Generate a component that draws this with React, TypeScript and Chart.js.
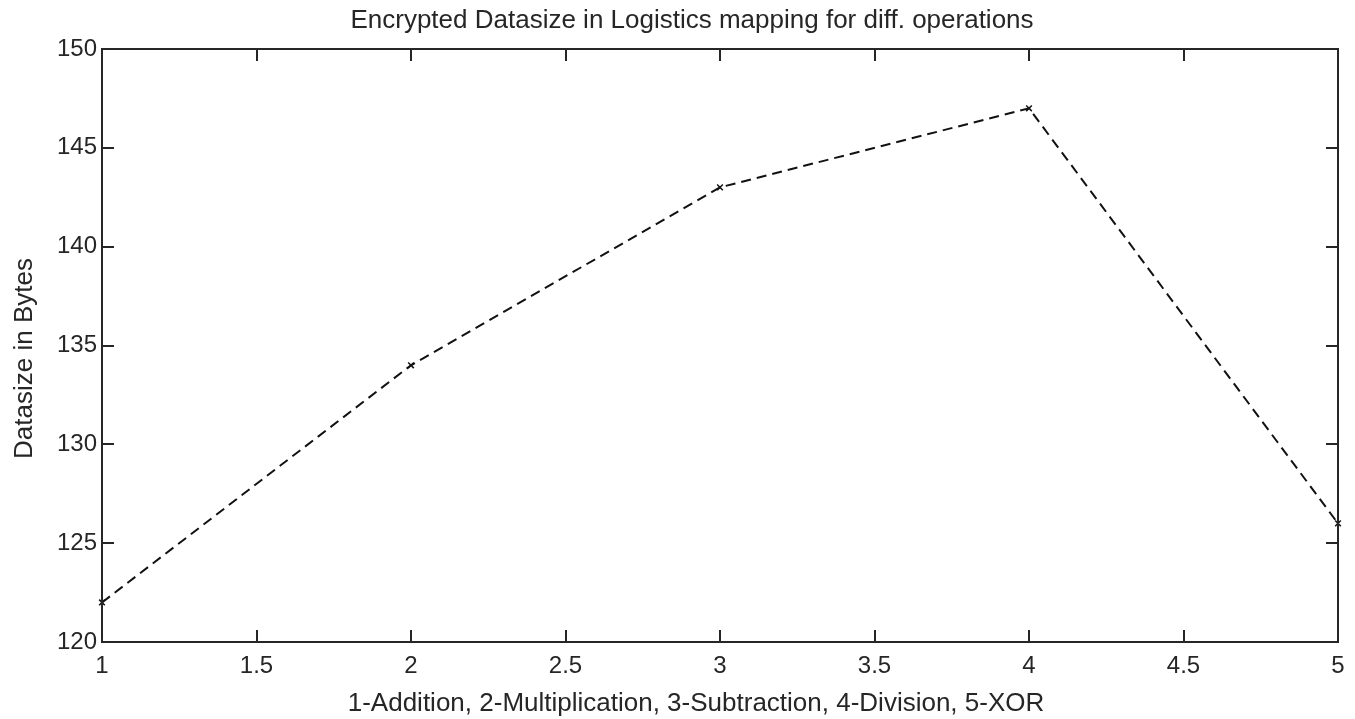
import React, { useEffect, useRef } from "react";
import { Chart, registerables } from "chart.js";

Chart.register(...registerables);

const titleText = "Encrypted Datasize in Logistics mapping for diff. operations";
const xAxisLabel = "1-Addition, 2-Multiplication, 3-Subtraction, 4-Division, 5-XOR";
const yAxisLabel = "Datasize in Bytes";

const operations = [1, 2, 3, 4, 5];
const dataSizes = [122, 134, 143, 147, 126];
const xTickValues = [1, 1.5, 2, 2.5, 3, 3.5, 4, 4.5, 5];
const yTickValues = [120, 125, 130, 135, 140, 145, 150];

const AXIS_COLOR = "#262626";
const FONT = "'Liberation Sans', Arial, Helvetica, sans-serif";

const frameTicksPlugin = {
  id: "frameTicks",
  afterDatasetsDraw(chart: any) {
    const { ctx, chartArea, scales } = chart;
    const { left, right, top, bottom } = chartArea;
    const len = 12;
    ctx.save();
    ctx.strokeStyle = AXIS_COLOR;
    ctx.lineWidth = 2;
    ctx.beginPath();
    xTickValues.forEach((v) => {
      const px = Math.round(scales.x.getPixelForValue(v));
      ctx.moveTo(px, bottom);
      ctx.lineTo(px, bottom - len);
      ctx.moveTo(px, top);
      ctx.lineTo(px, top + len);
    });
    yTickValues.forEach((v) => {
      const py = Math.round(scales.y.getPixelForValue(v));
      ctx.moveTo(left, py);
      ctx.lineTo(left + len, py);
      ctx.moveTo(right, py);
      ctx.lineTo(right - len, py);
    });
    ctx.stroke();
    ctx.strokeRect(left, top, right - left, bottom - top);
    ctx.restore();
  },
};

const textLabelsPlugin = {
  id: "textLabels",
  afterDraw(chart: any) {
    const { ctx, chartArea } = chart;
    ctx.save();
    ctx.fillStyle = AXIS_COLOR;
    ctx.font = `26px ${FONT}`;
    ctx.textAlign = "center";
    ctx.textBaseline = "alphabetic";
    const cx = (chartArea.left + chartArea.right) / 2 - 28;
    ctx.fillText(titleText, cx, 28);
    ctx.fillText(xAxisLabel, cx + 4, 711);
    ctx.translate(32, (chartArea.top + chartArea.bottom) / 2 + 13);
    ctx.rotate(-Math.PI / 2);
    ctx.fillText(yAxisLabel, 0, 0);
    ctx.restore();
  },
};

export default function App() {
  const canvasRef = useRef<HTMLCanvasElement | null>(null);

  useEffect(() => {
    if (!canvasRef.current) return;
    const chart = new Chart(canvasRef.current, {
      type: "line",
      data: {
        datasets: [
          {
            data: operations.map((x, i) => ({ x, y: dataSizes[i] })),
            borderColor: "#111111",
            borderWidth: 2,
            borderDash: [10, 6],
            pointStyle: "crossRot",
            pointRadius: 4,
            pointBorderWidth: 1.5,
            pointBorderColor: "#111111",
            pointBackgroundColor: "#111111",
            fill: false,
            tension: 0,
            clip: false,
          } as any,
        ],
      },
      options: {
        animation: false,
        responsive: false,
        events: [],
        layout: { padding: { left: 0, right: 17, top: 49, bottom: 0 } },
        plugins: {
          legend: { display: false },
          tooltip: { enabled: false },
          title: { display: false },
        },
        scales: {
          x: {
            type: "linear",
            min: 1,
            max: 5,
            afterFit: (scale: any) => {
              scale.height = 77;
            },
            afterBuildTicks: (scale: any) => {
              scale.ticks = xTickValues.map((v) => ({ value: v }));
            },
            ticks: {
              autoSkip: false,
              maxRotation: 0,
              padding: 10,
              color: AXIS_COLOR,
              font: { family: FONT, size: 24 },
              callback: (v: any) => String(v),
            },
            grid: { display: false, drawTicks: false },
            border: { display: false },
          },
          y: {
            type: "linear",
            min: 120,
            max: 150,
            afterFit: (scale: any) => {
              scale.width = 102;
            },
            afterBuildTicks: (scale: any) => {
              scale.ticks = yTickValues.map((v) => ({ value: v }));
            },
            ticks: {
              padding: 5,
              color: AXIS_COLOR,
              font: { family: FONT, size: 24 },
              callback: (v: any) => String(v),
            },
            grid: { display: false, drawTicks: false },
            border: { display: false },
          },
        },
      },
      plugins: [frameTicksPlugin, textLabelsPlugin],
    });
    return () => chart.destroy();
  }, []);

  return (
    <div style={{ position: "fixed", left: 0, top: 0, width: 1355, height: 719, background: "#ffffff" }}>
      <canvas ref={canvasRef} width={1355} height={719} style={{ width: 1355, height: 719, display: "block" }} />
    </div>
  );
}
